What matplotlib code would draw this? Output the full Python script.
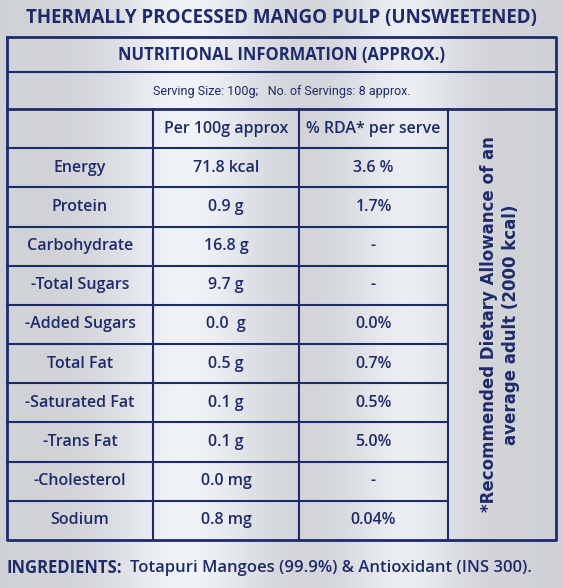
import numpy as np
import matplotlib.pyplot as plt

title = "THERMALLY PROCESSED MANGO PULP (UNSWEETENED)"
subtitle = "NUTRITIONAL INFORMATION (APPROX.)"
serving = "Serving Size: 100g;   No. of Servings: 8 approx."
headers = ["Per 100g approx", "% RDA* per serve"]
nutrients = ["Energy", "Protein", "Carbohydrate", "-Total Sugars", "-Added Sugars",
             "Total Fat", "-Saturated Fat", "-Trans Fat", "-Cholesterol", "Sodium"]
per100 = ["71.8 kcal", "0.9 g", "16.8 g", "9.7 g", "0.0  g",
          "0.5 g", "0.1 g", "0.1 g", "0.0 mg", "0.8 mg"]
rda = ["3.6 %", "1.7%", "-", "-", "0.0%", "0.7%", "0.5%", "5.0%", "-", "0.04%"]
note = "*Recommended Dietary Allowance of an\naverage adult (2000 kcal)"
ingredients = "Totapuri Mangoes (99.9%) & Antioxidant (INS 300)."

navy = "#1f2a6b"
W, H = 563, 588

fig = plt.figure(figsize=(W / 100, H / 100), dpi=100)
ax = fig.add_axes([0, 0, 1, 1])
ax.set_xlim(0, W)
ax.set_ylim(H, 0)
ax.axis("off")

# brushed silver background
xs = np.linspace(0, 1, 300)
shade = 0.84 + 0.13 * np.exp(-((xs - 0.33) / 0.13) ** 2) + 0.11 * np.exp(-((xs - 0.72) / 0.1) ** 2)
shade = np.clip(shade, 0, 1)
img = np.stack([shade * 0.97, shade * 0.98, shade * 1.0], axis=-1)[None, :, :]
img = np.clip(img, 0, 1)
ax.imshow(img, extent=[0, W, H, 0], aspect="auto", zorder=0)

fam = ["Open Sans", "DejaVu Sans"]
lw = 2.0
fs = 11.5
wt = 600

ax.text(W / 2, 18, title, ha="center", va="center", fontsize=13.5,
        fontweight="bold", color=navy, family=fam)

left, right, top, bottom = 7, 556, 37, 540
c1, c2, c3 = 153, 299, 448
ax.plot([left, right, right, left, left], [top, top, bottom, bottom, top], color=navy, lw=lw)
ax.plot([left, right], [72, 72], color=navy, lw=1.5)
ax.plot([left, right], [109, 109], color=navy, lw=lw)
ax.text(W / 2, 55, subtitle, ha="center", va="center", fontsize=12,
        fontweight="bold", color=navy, family=fam)
ax.text(W / 2, 92, serving, ha="center", va="center", fontsize=9,
        color=navy, family=["Roboto", "DejaVu Sans"])

for cx in (c1, c2, c3):
    ax.plot([cx, cx], [109, bottom], color=navy, lw=1.5)

n = len(nutrients) + 1
row_h = (bottom - 109) / n
for i in range(1, n):
    y = 109 + row_h * i
    ax.plot([left, c3], [y, y], color=navy, lw=1.5)

ax.text((c1 + c2) / 2, 109 + row_h / 2, headers[0], ha="center", va="center",
        fontsize=fs, fontweight=wt, color=navy, family=fam)
ax.text((c2 + c3) / 2, 109 + row_h / 2, headers[1], ha="center", va="center",
        fontsize=fs, fontweight=wt, color=navy, family=fam)

for i, (a, b, c) in enumerate(zip(nutrients, per100, rda)):
    y = 109 + row_h * (i + 1.5)
    for x, s in (((left + c1) / 2, a), ((c1 + c2) / 2, b), ((c2 + c3) / 2, c)):
        ax.text(x, y, s, ha="center", va="center", fontsize=fs, fontweight=wt,
                color=navy, family=fam)

ax.text((c3 + right) / 2 - 2, (109 + bottom) / 2, note, ha="center", va="center",
        rotation=90, fontsize=12, fontweight="bold", color=navy,
        family=["DejaVu Sans"], linespacing=1.25)

ax.text(7, 568, "INGREDIENTS:", ha="left", va="center", fontsize=12,
        fontweight="bold", color=navy, family=fam)
ax.text(130, 568, ingredients, ha="left", va="center", fontsize=12,
        fontweight=wt, color=navy, family=fam)

fig.savefig("out.png", dpi=100)
